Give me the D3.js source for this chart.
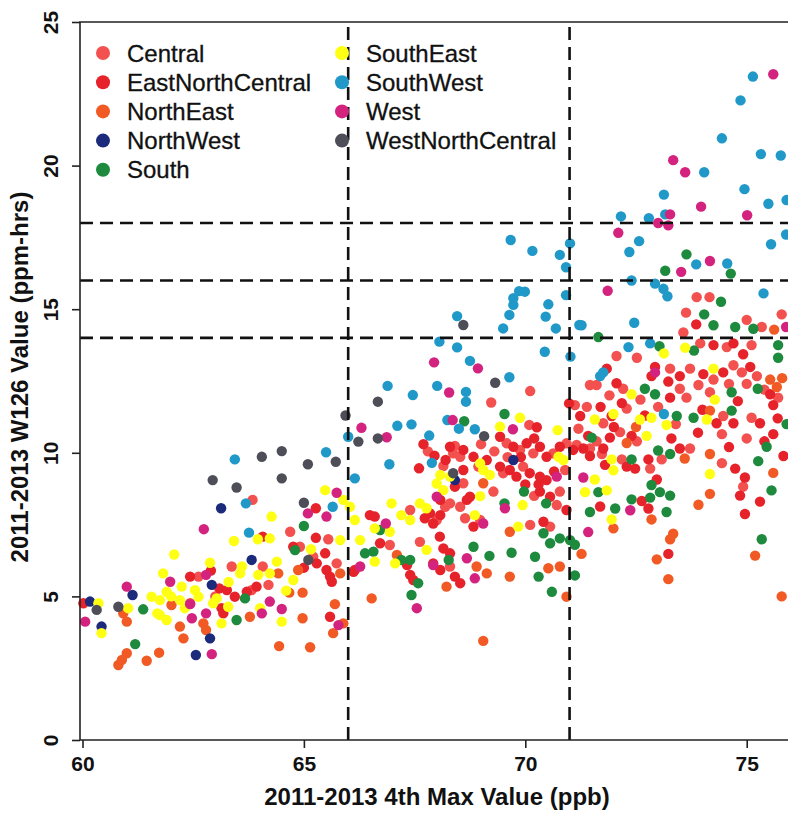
<!DOCTYPE html>
<html>
<head>
<meta charset="utf-8">
<script src="https://cdn.jsdelivr.net/npm/d3@7/dist/d3.min.js"></script>
<style>
  html, body { margin: 0; padding: 0; background: #fff; }
  svg { display: block; }
  text { font-family: "Liberation Sans", Arial, Helvetica, sans-serif; fill: #111; }
</style>
</head>
<body>
<svg id="chart" width="788" height="815"></svg>
<script>
// Regions shown in the legend, in legend order
const regions = ["Central", "EastNorthCentral", "NorthEast", "NorthWest", "South",
                 "SouthEast", "SouthWest", "West", "WestNorthCentral"];
const regionColors = ["#f3514f", "#e6222a", "#f15a24", "#1c2a7c", "#1d8a3d",
                      "#ffff14", "#2199c8", "#d4237f", "#4e4e58"];

// Site values: [2011-2013 4th max (ppb), 2011-2013 W126 (ppm-hrs)]
const central = [
  [63.84,8.36],[64.69,7.25],[65.55,6.99],[64.91,6.73],[65.21,6.38],[65.74,6.15],[63.37,6.04],[64.07,6.04],[62.62,5.69],[63.82,5.22],
  [70.11,12.15],[69.23,11.75],[70.09,10.97],[68.41,10.24],[68.37,9.98],[68.53,9.86],[69.58,10.33],[69.88,10.1],[70.18,9.98],[70.63,9.98],
  [70.93,10.33],[69.5,9.29],[69.95,9.52],[68.15,9.54],[68.94,9.52],[68.6,8.94],[69.28,8.65],[70.78,8.65],[70.71,8.18],[70.56,7.43],
  [70.11,7.49],[68.98,7.66],[68.64,7.72],[68.3,8.24],[68.53,8.12],[68.19,8.12],[68.0,7.66],[67.4,8.01],[66.94,6.79],[67.62,6.9],[68.3,6.04],
  [73.87,15.42],[74.16,15.42],[73.63,14.88],[73.57,14.19],[75.0,14.63],[75.34,14.38],[75.79,14.82],[73.95,13.81],[74.55,13.68],[75.11,13.75],
  [72.06,13.37],[72.52,13.31],[73.27,12.93],[73.72,12.93],[74.25,12.55],[74.7,13.05],[74.89,12.8],[75.23,12.67],[71.46,12.36],[71.61,12.36],
  [72.21,12.23],[73.49,12.23],[73.64,11.92],[73.91,12.36],[74.17,12.11],[75.71,11.92],[71.39,11.6],[71.12,11.66],[71.76,11.03],[72.29,11.54],
  [74.47,11.28],[74.44,10.65],[75.11,11.22],[71.2,10.84],[71.61,10.4],[71.46,10.15],[71.16,10.27],[72.14,10.72],[72.52,10.4],[73.08,9.77],
  [73.72,10.15],[71.73,9.96],[72.18,9.77],[72.82,9.45],[74.44,9.64],[74.92,8.82],
  [67.8,10.05],[69.0,10.3],[69.3,10.05],[69.6,9.85],[70.9,9.4],[70.2,8.5],[71.9,12.0],[72.6,11.85],[73.0,11.6],[73.4,11.0],
  [74.6,12.4],[75.0,12.4],[75.4,12.2],[75.0,10.5],[64.2,5.4],[63.0,5.0]
];
const eastNorthCentral = [
  [64.07,7.08],[65.27,8.07],[65.27,7.04],[64.76,6.73],[65.48,6.5],[65.29,6.15],[65.51,5.92],[62.43,5.69],[65.59,5.69],[65.63,5.51],
  [66.12,5.86],[63.09,5.28],[63.26,5.22],[63.44,4.99],[63.71,5.16],[63.93,5.34],[60.02,4.76],[63.14,4.59],[63.18,4.41],[65.59,4.29],
  [70.26,10.89],[70.99,11.72],[68.3,10.21],[68.6,10.1],[69.43,10.56],[69.73,10.21],[70.03,10.33],[70.33,10.21],[70.48,9.86],[70.78,10.21],
  [71.08,10.1],[70.33,9.17],[70.48,9.05],[69.43,9.52],[69.65,9.4],[69.8,9.17],[70.1,9.29],[67.6,9.46],[68.6,9.4],[68.83,9.86],
  [69.13,9.75],[68.41,8.82],[68.75,8.47],[70.33,8.65],[70.56,8.47],[70.93,8.01],[70.41,7.6],[68.83,7.43],[68.68,8.36],[68.08,8.36],
  [68.08,7.83],[67.73,7.72],[67.85,7.89],[67.92,7.54],[66.49,7.83],[66.6,7.78],[66.72,6.85],[66.15,5.92],[67.33,6.09],[68.07,7.08],
  [68.15,6.67],[68.3,6.5],[67.92,6.15],[68.08,5.92],[67.4,5.75],[67.47,5.57],[68.41,5.69],[68.53,5.46],
  [73.86,14.47],[74.25,13.75],[74.7,13.81],[74.92,13.43],[72.93,12.99],[72.85,12.67],[73.49,12.67],[74.02,12.74],[74.47,12.8],[75.08,12.99],
  [71.84,12.93],[72.06,12.42],[73.23,12.48],[73.27,11.92],[75.53,12.04],[75.6,11.66],[72.18,11.73],[71.24,11.28],[71.95,11.28],[74.32,11.03],
  [74.7,11.03],[75.3,11.03],[75.6,10.65],[71.42,10.59],[71.76,10.15],[71.31,10.15],[71.91,10.53],[72.4,10.59],[72.78,9.77],[73.49,10.15],
  [71.8,9.58],[71.46,9.89],[72.29,9.52],[72.48,9.45],[72.97,9.07],[74.74,9.45],[74.96,9.14],[74.85,8.51],[74.96,7.87],[75.83,9.89],
  [72.63,8.32],[72.78,8.06],[71.69,8.13],[73.23,6.48],
  [67.7,10.3],[67.95,9.9],[68.2,9.75],[69.9,9.85],[70.2,10.5],[70.0,8.9],[70.3,8.9],[70.65,9.35],[72.0,10.9],[72.7,11.3],
  [73.3,10.5],[73.9,10.7],[74.0,11.5],[71.7,11.6],[74.8,11.8],[75.4,10.4],[75.7,11.2],[74.6,10.2],[75.3,8.3],[62.9,5.9],[65.0,6.0]
];
const northEast = [
  [64.87,5.92],[64.42,5.8],[65.82,5.8],[60.92,4.41],[61.0,4.12],[62.01,4.7],[62.43,4.76],[62.73,4.06],[62.79,3.83],[62.2,3.95],
  [62.28,3.54],[63.78,4.29],[64.67,5.13],[64.97,5.13],[64.97,4.24],[65.7,4.73],[65.89,4.06],[65.66,3.72],[64.44,3.27],[65.14,3.23],
  [61.0,3.02],[60.81,2.61],[60.89,2.79],[61.45,2.76],[61.73,3.04],
  [69.05,8.94],[69.65,7.25],[68.9,6.04],[69.13,5.8],[69.65,5.69],[70.52,5.98],[70.78,6.04],[70.93,4.99],[67.1,6.44],[66.53,4.93],
  [68.22,5.34],[69.05,3.45],
  [75.62,14.29],[75.53,12.55],[75.68,12.29],[74.17,11.47],[72.29,10.34],[74.17,9.96],[74.17,8.57],[73.91,8.19],[72.85,7.68],[71.99,7.37],
  [71.27,6.48],[72.97,6.29],[73.27,6.99],[73.34,7.18],[73.23,5.6],[75.19,6.42],[75.79,5.0],
  [72.5,10.9],[73.6,9.8],[75.8,12.6],[75.6,9.3]
];
const northWest = [
  [63.13,8.07],[63.82,6.27],[61.13,5.05],[62.92,5.4],[60.17,4.82],[62.88,3.54],[62.56,2.96],[60.43,3.95],
  [69.73,9.75],[68.41,9.05]
];
const south = [
  [65.0,7.45],[64.8,6.61],[63.67,4.93],[61.37,4.55],[63.48,4.18],[61.19,3.34],
  [68.62,11.1],[69.53,11.35],[69.53,8.24],[69.97,8.65],[70.47,8.24],[70.78,7.02],[71.01,6.96],[70.41,7.2],[70.56,6.85],[69.69,6.52],
  [70.22,6.38],[69.19,6.41],[68.83,6.73],[66.72,7.31],[66.38,6.5],[66.57,6.56],[67.2,6.27],[67.4,6.27],[68.27,6.27],[67.58,5.46],
  [67.43,5.05],[70.3,5.69],[70.6,5.16],
  [73.64,16.91],[74.64,16.24],[73.16,16.34],[74.42,15.26],[74.04,14.82],[74.25,14.44],[74.74,14.38],[75.15,14.32],[71.65,14.03],[73.03,13.71],
  [73.81,13.56],[75.71,13.75],[75.71,13.31],[72.7,12.23],[72.93,12.04],[74.66,12.11],[74.66,11.47],[75.25,12.23],[73.42,11.28],[73.8,11.22],
  [71.5,10.53],[72.4,9.77],[73.0,10.08],[73.27,9.96],[71.65,8.63],[72.85,8.88],[73.04,8.63],[73.27,8.51],[75.26,9.71],[75.45,10.21],
  [75.56,8.69],[72.4,8.38],[72.82,8.44],[73.19,7.94],[72.03,8.06],[71.46,7.94],[71.12,6.8],[71.12,5.73],[75.34,6.99],
  [75.9,11.0]
];
const southEast = [
  [65.48,8.7],[65.89,8.36],[64.27,7.78],[63.42,6.93],[63.96,6.99],[64.23,7.02],[65.82,6.96],[65.16,6.64],[62.07,6.46],[62.88,6.17],
  [64.39,6.21],[63.6,6.04],[63.56,5.8],[61.82,5.8],[63.97,5.75],[64.23,5.8],[64.76,5.57],[61.56,4.99],[61.75,4.87],[61.9,5.16],
  [62.24,5.34],[62.54,5.22],[62.62,4.99],[63.03,4.93],[62.95,4.76],[63.29,4.64],[62.2,4.87],[60.36,4.76],[61.03,4.59],[61.75,4.35],
  [61.9,4.18],[62.31,4.59],[63.14,4.06],[64.01,4.59],[64.5,4.12],[60.43,3.72],[61.69,4.41],
  [69.88,11.22],[69.43,10.91],[70.73,10.79],[69.05,9.4],[69.2,9.23],[70.75,9.86],[70.86,9.75],[68.08,9.23],[68.3,9.17],[68.98,9.63],
  [68.0,8.93],[68.15,8.7],[68.98,8.49],[69.94,8.18],[69.84,7.43],[68.86,7.83],[67.62,8.24],[67.77,8.07],[66.98,8.24],[67.2,7.83],
  [67.4,7.66],[66.04,8.12],[66.15,7.66],[66.27,6.96],[66.6,7.37],[66.94,7.25],[66.6,6.21],[67.06,6.15],[67.77,6.62],
  [73.13,13.46],[73.61,13.66],[72.4,12.04],[74.25,12.93],[74.28,11.85],[71.57,11.16],[71.99,11.35],[72.59,11.16],[72.85,11.22],[73.19,10.97],
  [74.1,11.16],[72.74,10.59],[71.95,9.77],[71.57,9.07],[71.35,8.63],[71.84,8.69],[71.99,9.39],[74.17,9.26],[71.95,7.68],
  [62.0,5.0],[63.3,5.5],[64.6,5.2]
];
const southWest = [
  [66.0,10.56],[63.44,9.77],[65.5,10.02],[66.15,9.11],[63.69,8.24],[65.65,8.12],[63.76,7.22],
  [69.67,17.41],[70.16,17.03],[71.01,17.29],[70.78,16.89],[70.92,16.46],[69.86,15.63],[69.99,15.61],[69.73,15.38],[69.73,15.15],[69.64,14.8],
  [69.5,14.33],[70.92,15.49],[70.52,15.17],[70.46,14.74],[70.69,14.33],[71.22,14.45],[68.46,14.76],[68.06,13.87],[68.46,13.67],[70.44,13.52],
  [71.02,13.35],[68.75,13.2],[69.64,12.63],[66.89,12.33],[67.46,12.01],[68.01,12.33],[68.66,12.12],[68.66,11.78],[67.11,10.94],[67.43,10.99],
  [67.83,10.6],[68.24,11.14],[68.5,10.84],[68.86,10.82],[66.93,9.6],[67.89,9.65],
  [75.14,23.1],[74.86,22.27],[74.44,20.95],[75.32,20.4],[75.77,20.35],[74.04,19.77],[73.13,18.99],[74.95,19.18],[75.49,18.67],[75.9,18.8],
  [72.16,18.23],[72.79,18.17],[73.16,18.3],[72.57,17.37],[72.35,16.99],[75.55,17.26],[75.89,17.6],[73.86,16.56],[74.56,16.59],[72.4,16.0],
  [72.93,15.89],[73.12,15.71],[73.21,15.45],[75.38,15.55],[71.27,14.44],[72.46,14.53],[72.33,13.68],[72.82,13.81],[71.76,12.8],[71.69,12.67],
  [73.13,11.35]
];
const west = [
  [65.74,8.61],[65.09,7.89],[65.51,7.78],[62.74,7.34],[62.79,5.75],[61.98,5.51],[61.0,5.34],[62.43,4.73],[62.79,4.41],[62.47,4.24],
  [64.05,4.41],[64.23,4.82],[64.5,4.56],[65.78,4.0],[62.92,2.99],[60.06,4.12],
  [66.3,10.87],[67.94,13.15],[68.93,12.94],[68.28,12.1],[66.87,10.54],[68.36,11.14],[69.72,10.82],[70.71,9.17],[68.0,8.47],[69.54,8.07],
  [69.05,7.54],[66.85,7.54],[66.27,6.04],[68.68,6.33],[68.86,5.63],[67.92,6.09],[67.55,4.59],
  [75.6,23.18],[73.34,20.19],[73.61,19.77],[73.97,18.57],[75.01,18.27],[73.0,18.0],[73.23,17.92],[73.27,18.3],[72.1,17.66],[74.17,16.68],
  [73.52,16.3],[71.86,15.64],[75.89,14.38],[72.93,12.8],[71.31,9.14],[72.37,8.0],[71.42,7.24]
];
const westNorthCentral = [
  [65.94,11.3],[66.23,10.39],[64.05,9.86],[64.5,10.06],[65.09,9.6],[65.72,9.69],[62.94,9.05],[63.48,8.79],[64.5,9.11],[65.0,8.26],
  [65.1,6.27],[60.32,4.53],[60.81,4.64],
  [68.6,14.45],[69.32,12.44],[66.67,11.78],[66.67,10.5],[69.07,10.58],[68.37,9.29]
];

const seriesByRegion = [central, eastNorthCentral, northEast, northWest, south,
                        southEast, southWest, west, westNorthCentral];

// Axis ticks and reference thresholds
const xTicks = [60, 65, 70, 75];
const yTicks = [0, 5, 10, 15, 20, 25];
const xThresholds = [66, 71];
const yThresholds = [14, 16, 18];

const svg = d3.select("#chart");
const x = d3.scaleLinear().domain([60, 75]).range([82.5, 746.7]);
const y = d3.scaleLinear().domain([0, 25]).range([740, 22]);
const frame = { left: 80, right: 830, top: 22, bottom: 740 };

// Points
const pts = svg.append("g");
seriesByRegion.forEach((series, i) => {
  pts.selectAll(null)
    .data(series)
    .join("circle")
    .attr("cx", d => x(d[0]))
    .attr("cy", d => y(d[1]))
    .attr("r", 5.2)
    .attr("fill", regionColors[i]);
});

// Dashed threshold lines
const dash = svg.append("g")
  .attr("stroke", "#111")
  .attr("stroke-width", 2.6)
  .attr("stroke-dasharray", "13,7")
  .attr("fill", "none");
dash.selectAll(".v").data(xThresholds).join("line")
  .attr("x1", d => x(d)).attr("x2", d => x(d))
  .attr("y1", frame.bottom).attr("y2", frame.top);
dash.selectAll(".h").data(yThresholds).join("line")
  .attr("x1", frame.left).attr("x2", frame.right)
  .attr("y1", d => y(d)).attr("y2", d => y(d));

// Plot frame
svg.append("path")
  .attr("d", `M${frame.right},${frame.top}H${frame.left}V${frame.bottom}H${frame.right}`)
  .attr("fill", "none").attr("stroke", "#222").attr("stroke-width", 1.6);

// Axes
const xAxis = svg.append("g")
  .attr("transform", `translate(0,${frame.bottom})`)
  .call(d3.axisBottom(x).tickValues(xTicks).tickSize(8).tickPadding(8).tickFormat(d3.format("d")));
xAxis.select(".domain").remove();
xAxis.selectAll(".tick line").attr("stroke", "#222").attr("stroke-width", 1.6);
xAxis.selectAll(".tick text")
  .attr("fill", "#111").style("font-size", "21px").style("font-weight", "bold");

const yAxis = svg.append("g")
  .attr("transform", `translate(${frame.left},0)`)
  .call(d3.axisLeft(y).tickValues(yTicks).tickSize(8).tickFormat(d3.format("d")));
yAxis.select(".domain").remove();
yAxis.selectAll(".tick line").attr("stroke", "#222").attr("stroke-width", 1.6);
yAxis.selectAll(".tick text")
  .attr("x", null).attr("dy", null)
  .attr("text-anchor", "middle")
  .attr("transform", "translate(-22,0) rotate(-90)")
  .attr("fill", "#111").style("font-size", "21px").style("font-weight", "bold");

// Axis titles
svg.append("text")
  .attr("x", 437).attr("y", 805)
  .attr("text-anchor", "middle")
  .style("font-size", "24px").style("font-weight", "bold")
  .text("2011-2013 4th Max Value (ppb)");
svg.append("text")
  .attr("transform", "translate(28,377) rotate(-90)")
  .attr("text-anchor", "middle")
  .style("font-size", "24px").style("font-weight", "bold")
  .text("2011-2013 W126 Value (ppm-hrs)");

// Legend, two columns
const legend = svg.append("g");
regions.forEach((name, i) => {
  const col = i < 5 ? 0 : 1;
  const row = i < 5 ? i : i - 5;
  const lx = col === 0 ? 103 : 342;
  const ly = 53 + row * 29.2;
  legend.append("circle").attr("cx", lx).attr("cy", ly).attr("r", 7).attr("fill", regionColors[i]);
  legend.append("text").attr("x", lx + 24).attr("y", ly + 8.5)
    .style("font-size", "24px")
    .attr("stroke", "#111").attr("stroke-width", 0.3)
    .text(name);
});
</script>
</body>
</html>
